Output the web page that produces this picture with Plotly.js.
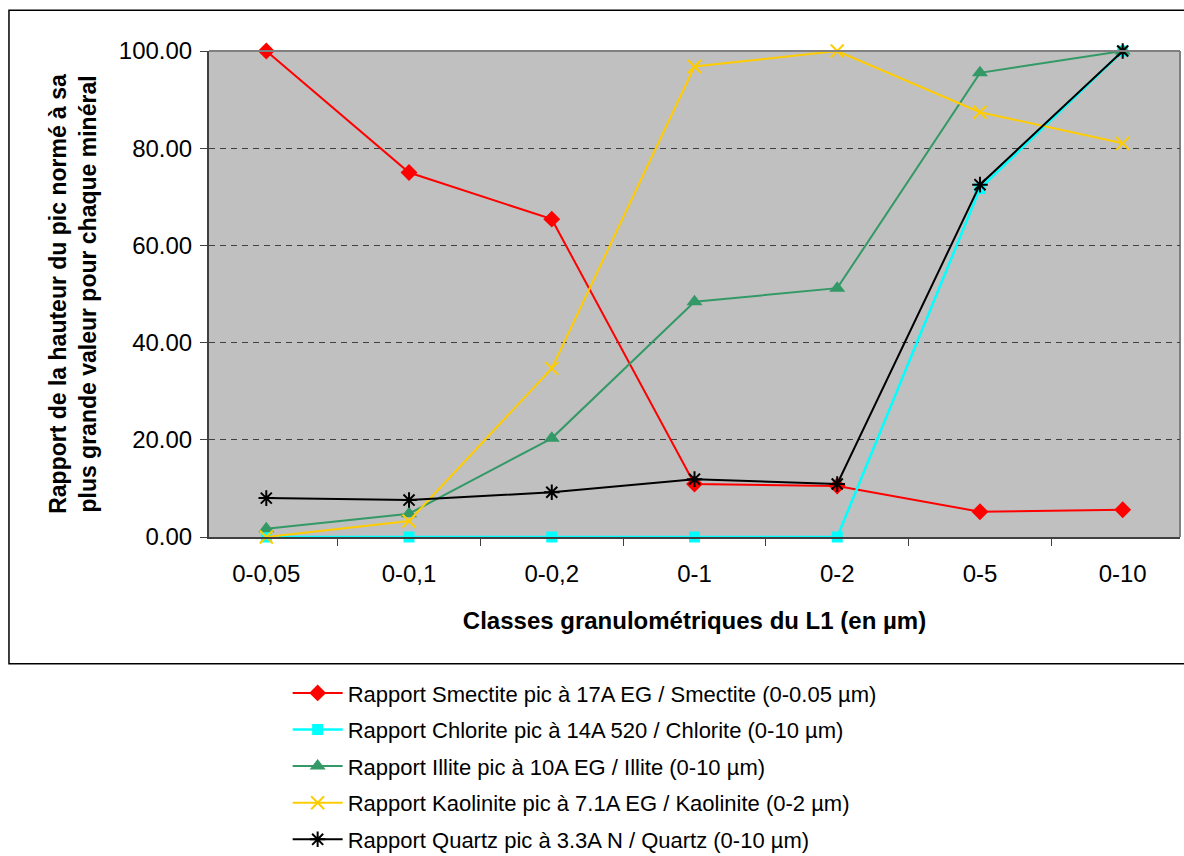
<!DOCTYPE html>
<html>
<head>
<meta charset="utf-8">
<script src="https://cdn.plot.ly/plotly-3.0.1.min.js"></script>
<style>html,body{margin:0;padding:0;background:#fff;}#chart{width:1184px;height:856px;}</style>
</head>
<body>
<div id="chart"></div>
<script>
var categories = ["0-0,05", "0-0,1", "0-0,2", "0-1", "0-2", "0-5", "0-10"];
var smectite  = [100.0, 75.0, 65.4, 10.9, 10.5, 5.2, 5.6];
var chlorite  = [0.0, 0.0, 0.0, 0.0, 0.0, 71.7, 100.0];
var illite    = [1.7, 4.8, 20.3, 48.4, 51.2, 95.5, 100.0];
var kaolinite = [0.0, 3.3, 34.7, 96.8, 100.0, 87.4, 81.0];
var quartz    = [8.0, 7.6, 9.2, 11.9, 10.9, 72.5, 100.0];
var seriesNames = [
  "Rapport Smectite pic à 17A EG / Smectite (0-0.05 µm)",
  "Rapport Chlorite pic à 14A 520 / Chlorite (0-10 µm)",
  "Rapport Illite pic à 10A EG / Illite (0-10 µm)",
  "Rapport Kaolinite pic à 7.1A EG / Kaolinite (0-2 µm)",
  "Rapport Quartz pic à 3.3A N / Quartz (0-10 µm)"
];
var yTickVals = [0, 20, 40, 60, 80, 100];
var xTitle = "Classes granulométriques du L1 (en µm)";
var yTitle = "Rapport de la hauteur du pic normé à sa<br>plus grande valeur pour chaque minéral";

var styles = [
  {color: "#FF0000", symbol: "diamond", size: 13, width: 2},
  {color: "#00FFFF", symbol: "square", size: 11, width: 2.5},
  {color: "#339966", symbol: "triangle-up", size: 14, width: 2},
  {color: "#FFCC00", symbol: "x-thin-open", size: 13, width: 2},
  {color: "#000000", symbol: "asterisk-open", size: 13, width: 2}
];
var values = [smectite, chlorite, illite, kaolinite, quartz];

var traces = values.map(function (v, i) {
  var s = styles[i];
  return {
    type: "scatter", mode: "lines+markers",
    x: categories, y: v, name: seriesNames[i],
    legendgroup: "g" + i,
    cliponaxis: false,
    line: {color: s.color, width: s.width},
    marker: {color: s.color, symbol: s.symbol, size: s.size,
             line: {color: s.color, width: (s.symbol.indexOf("open") >= 0 ? 2 : 0)}}
  };
});

var FONT = "Liberation Sans, Arial, sans-serif";
var layout = {
  width: 1184, height: 856,
  margin: {l: 209, r: 4, t: 51, b: 319, autoexpand: false},
  paper_bgcolor: "#FFFFFF",
  plot_bgcolor: "#C0C0C0",
  font: {family: FONT, color: "#000000"},
  showlegend: true,
  legend: {
    x: 0.081, y: -0.278, xanchor: "left", yanchor: "top",
    font: {size: 22, family: FONT},
    itemwidth: 50,
    tracegroupgap: 5, bgcolor: "rgba(0,0,0,0)"
  },
  xaxis: {
    type: "category",
    tickson: "boundaries",
    ticks: "outside", ticklen: 7, tickcolor: "#404040", tickwidth: 1,
    showline: true, linecolor: "#404040", linewidth: 2,
    showgrid: false, zeroline: false,
    tickfont: {size: 24},
    tickangle: 0,
    ticklabelstandoff: 14,
    title: {text: xTitle, font: {size: 24, weight: "bold"}, standoff: 26}
  },
  yaxis: {
    range: [0, 100],
    tickvals: yTickVals, tickformat: ".2f",
    ticks: "outside", ticklen: 7, tickcolor: "#404040", tickwidth: 1,
    showline: true, linecolor: "#404040", linewidth: 2,
    showgrid: true, gridcolor: "#404040", gridwidth: 1, griddash: "6px,5px",
    zeroline: false,
    tickfont: {size: 24},
    ticklabelstandoff: 3,
    title: {text: yTitle, font: {size: 23, weight: "bold"}, standoff: 16}
  },
  shapes: [
    {type: "rect", xref: "paper", yref: "paper", x0: -0.206, x1: 1.02, y0: -0.261, y1: 1.084,
     line: {color: "#000000", width: 1.5}, fillcolor: "rgba(0,0,0,0)", layer: "below"},
    {type: "line", xref: "paper", yref: "paper", x0: 0, x1: 1, y0: 1, y1: 1,
     line: {color: "#808080", width: 2}, layer: "above"},
    {type: "line", xref: "paper", yref: "paper", x0: 1, x1: 1, y0: 0, y1: 1,
     line: {color: "#808080", width: 2}, layer: "below"}
  ]
};

Plotly.newPlot("chart", traces, layout, {displayModeBar: false, staticPlot: true});
</script>
</body>
</html>
